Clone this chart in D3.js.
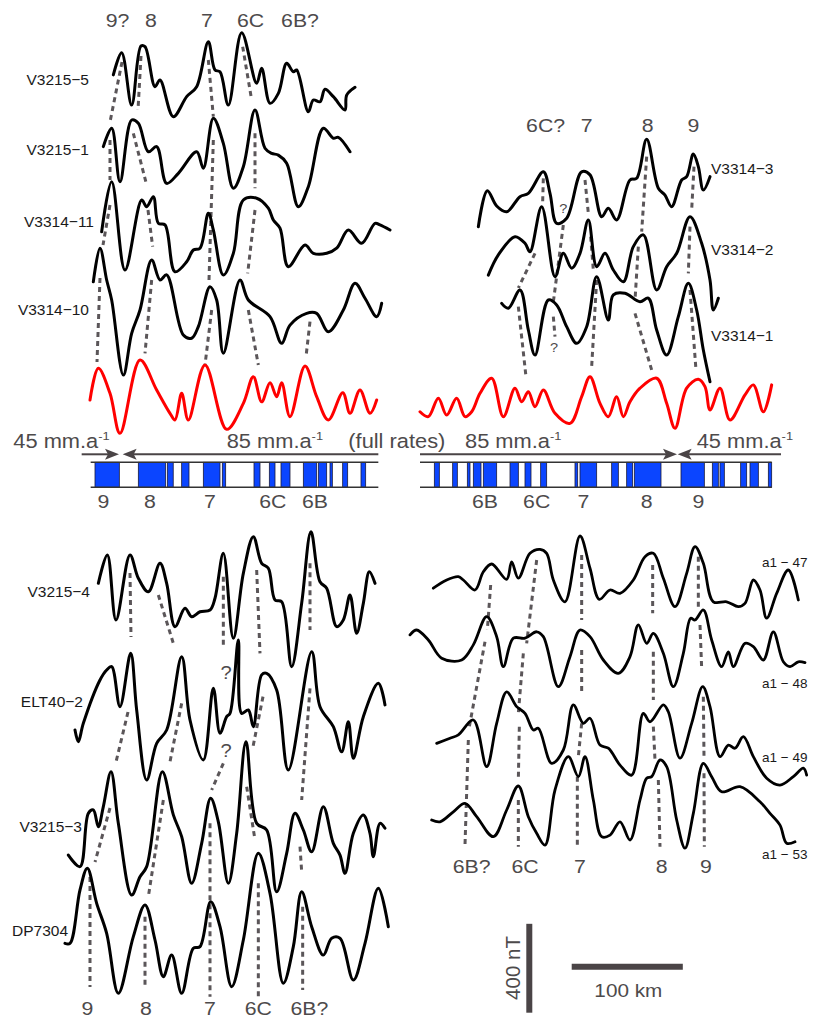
<!DOCTYPE html>
<html>
<head>
<meta charset="utf-8">
<script src="https://cdnjs.cloudflare.com/ajax/libs/d3/7.8.5/d3.min.js"></script>
<style>
  body { margin: 0; background: #fff; }
  svg { display: block; }
</style>
</head>
<body>
<svg></svg>
<script>
// magnetic anomaly profiles, [distance km, anomaly nT] (anomaly relative to own profile baseline)
const V3215_5 = [[21,23],[28.5,123],[37.5,-113],[45.9,153],[49.5,150],[58.5,-30],[63,0],[75,-165],[87,-75],[96,-30],[106.5,172],[112.5,45],[117,37],[124.5,-113],[136.5,213],[150,-15],[154.5,53],[162,-105],[169.5,-60],[177,75],[183,37],[186,45],[196.5,-143],[201,-90],[207,-98],[211.5,-42],[219,-75],[229.5,-135],[231,-68],[238.5,-33]];
const V3215_1 = [[12,15],[19.5,98],[27,-143],[37.5,135],[43.5,120],[52.5,-8],[60,15],[69,-150],[79.5,-105],[96,-8],[102,-82],[111,143],[120,30],[129,-172],[138,-75],[148.5,180],[157.5,8],[163.5,-15],[169.5,-23],[177,-60],[187.5,-255],[196.5,-165],[210,98],[219,53],[223.5,57],[234,-8]];
const V3314_11 = [[10.5,-8],[19.5,217],[31.5,-180],[46.5,135],[51,105],[57,150],[61.5,30],[67.5,23],[76.5,-188],[87,-143],[93,-90],[99,-82],[106.5,75],[111,0],[120,-203],[129,-105],[138,135],[150,143],[160.5,98],[165,45],[171,8],[178.5,-165],[193.5,-68],[201,-105],[213,-105],[222,-82],[232.5,0],[244.5,-60],[256.5,30],[261,23],[270,0]];
const V3314_10 = [[3,127],[9,278],[15,135],[19.5,45],[30,-293],[37.5,-105],[45,0],[55.5,225],[63,135],[69,158],[84,-113],[91.5,-127],[97.5,-75],[108,105],[114,45],[120,-195],[135,135],[142.5,45],[162,-30],[172.5,-150],[180,-68],[195,-15],[204,-15],[214.5,-98],[228,0],[238.5,120],[247.5,53],[258,-30],[262.5,30]];
const synthLeft = [[0,0],[7.5,143],[18,30],[27,-150],[45,180],[60,45],[72,-60],[76.5,-90],[82.5,30],[88.5,-90],[103.5,158],[123,-132],[138,-15],[147,105],[154.5,-8],[162,78],[168,15],[172.5,78],[180,-75],[193.5,153],[204,15],[214.5,-90],[227.5,33],[234,-60],[243,45],[252,-60],[258,0]];

const V3314_3 = [[61.5,-165],[69.6,-3],[78,-72],[87,-98],[99,-30],[106.5,-15],[120,82],[126,-15],[132,-150],[141,-127],[154.5,82],[162,68],[172.5,-120],[178.5,-82],[186,-135],[198,45],[204,53],[213,228],[223.5,8],[229.5,-23],[235.5,-75],[244.5,45],[249,60],[255,162],[259.5,105],[264,0],[270,60]];
const V3314_2 = [[70.5,-68],[79.5,23],[94.5,105],[103.5,75],[108,37],[118.5,240],[130.5,-75],[138,30],[145.5,-37],[153,30],[160.5,180],[168,-30],[175.5,30],[183,-45],[192,-98],[201,60],[210,113],[222,-135],[231,-30],[240,30],[252,195],[262.5,75],[270,-90],[273,-225],[277.5,-172]];
const V3314_1 = [[82.5,75],[88.5,53],[99,135],[106.5,-45],[112.5,-158],[124.5,90],[132,68],[141,-30],[150,-105],[159,-30],[168,195],[178.5,0],[183,113],[193.5,120],[207,82],[214.5,98],[222,-45],[231,-158],[241.5,15],[250.5,165],[258,45],[264,-135],[270,-278]];
const synthRight = [[9,-53],[16.5,-75],[25.5,8],[33,-68],[42,8],[49.5,-75],[55.5,-53],[63,30],[73.5,98],[84,-75],[94.5,53],[100.5,-8],[106.5,37],[112.5,-30],[120,45],[130.5,-60],[144,-105],[154.5,15],[162,105],[171,-15],[178.5,-75],[186,15],[192,-75],[198,-8],[207,53],[222,98],[231,-15],[238.5,-127],[249,53],[259.5,93],[265.5,60],[270,-45],[279,53],[288,-90],[301.5,23],[309,68],[318,-53],[325.5,68]];

const V3215_4 = [[7.5,30],[15.6,158],[23.4,-135],[36,158],[43.5,53],[52.5,-8],[63,120],[69,30],[76.5,-165],[85.5,-82],[91.5,-120],[99,-98],[108,-90],[112.5,-37],[120,165],[129,-217],[138,75],[147,240],[154.5,120],[160.5,98],[166.5,-45],[172.5,-53],[181.5,-345],[190.5,-60],[198.9,262],[207,37],[213,8],[222,-165],[228,-135],[234,-23],[240,-195],[246,-60],[251.4,82],[256.5,30]];
const ELT40_2 = [[-13.5,-90],[-10.5,-143],[-6,-60],[9,135],[15,180],[19.5,195],[27,15],[36.6,255],[42,0],[51,-315],[60,-150],[69,-90],[82.5,240],[90,-45],[102,-225],[111,98],[117,-105],[123,-30],[126,-15],[133.5,315],[136.5,-15],[142.5,0],[147,-75],[154.5,158],[159,165],[168,90],[178.5,-270],[199.5,262],[207,15],[219,-75],[226.5,-188],[232.5,-53],[237,-217],[246,-30],[259.5,120],[265.5,23]];
const V3215_3 = [[-19.5,-113],[-9,-165],[-1.5,75],[3,90],[7.5,15],[12,105],[18.9,262],[25.5,30],[37.5,-293],[45,-210],[51,-165],[65.1,262],[75,68],[82.5,-30],[91.5,-240],[100.5,-60],[108.6,143],[115.5,37],[124.5,-240],[132,-15],[140.4,397],[150,30],[159,0],[168,-278],[177,-105],[184.5,75],[192,0],[199.5,-98],[210,105],[219,-60],[225,-113],[229.5,-195],[237,-15],[246,68],[252,-15],[255,-120],[261,30],[265.5,8]];
const DP7304 = [[-22.5,-15],[-18,-15],[-9,225],[-2.4,323],[6,165],[15,30],[25.5,-240],[39,15],[49.5,158],[58.5,0],[66,-165],[73.5,-68],[82.5,-240],[93,-37],[99,-30],[108.6,172],[117,60],[127.5,-210],[138,0],[151.5,390],[162,210],[174,-195],[183,-30],[190.5,217],[199.5,60],[210,-68],[217.5,8],[225,8],[237,-180],[247.5,-15],[259.5,233],[268.5,60]];

const a1_47 = [[21,-37],[33,0],[43.5,15],[48,0],[58.5,-45],[66,37],[73.5,72],[87,3],[91.5,82],[97.5,8],[108,120],[117,138],[123,120],[129,0],[139.5,-98],[153,198],[162,53],[170.4,-87],[180,-45],[189,-60],[201,0],[211.5,105],[219,120],[228,8],[238.5,-120],[249,30],[256.5,150],[264,75],[273,-98],[285,-98],[295.5,-120],[301.5,-105],[309,0],[315,-45],[321,-172],[330,-60],[340.5,45],[349.5,-90]];
const a1_48 = [[0,68],[6,90],[16.5,45],[28.5,-37],[46.5,-45],[57,23],[69,150],[78,60],[84,-75],[93,53],[103.5,53],[114,82],[120,60],[133.5,-165],[144,-30],[153,90],[162,60],[174,-45],[187.5,-105],[198,-30],[205.5,113],[213,30],[219,75],[228,-15],[237,-165],[246,-15],[252.6,143],[256.5,135],[264,180],[271.5,45],[280.5,-75],[286.5,-8],[291,-75],[301.5,30],[309,15],[318,-45],[327,82],[336,-53],[342,-75],[349.5,-53],[355.5,-57]];
const a1_49 = [[24,-15],[36,8],[43.5,23],[57,90],[69,-120],[78,75],[87,217],[96,150],[103.5,120],[111,45],[115.5,53],[127.5,-105],[138,-45],[147,158],[156,75],[162,98],[171,-23],[178.5,-37],[189,-113],[199.5,-158],[210,120],[216,82],[228,158],[232.5,127],[243,-82],[253.5,75],[263.4,240],[270,150],[279,-75],[286.5,-23],[292.5,-37],[300,15],[309,-75],[321,-172],[333,-203],[345,-165],[354,-127],[357,-158]];
const a1_53 = [[19.5,0],[27,-8],[39,37],[49.5,75],[60,15],[75,-75],[87,45],[97.5,153],[106.5,15],[114,-60],[121.5,-113],[130.5,135],[142.5,285],[151.5,195],[157.5,285],[165,90],[172.5,-75],[180,-68],[189,-8],[198,-90],[207,90],[213,188],[217.5,195],[225,270],[231,240],[240,0],[247.5,-127],[255,30],[264,255],[271.5,195],[280.5,127],[297,150],[315,82],[324,30],[333,-23],[339,-105],[346.5,-98]];

// stacking offsets (nT) of each profile within its panel
const offsetsTopLeft = [1620, 1305, 945, 585, 180];
const offsetsTopRight = [1125, 810, 540, 180];
const offsetsBotLeft = [1845, 1305, 765, 270];
const offsetsBotRight = [1260, 945, 540, 180];

// correlation picks (dashed), segments of [km, stacked nT]
const picksTopLeft = [
  [[28.8,1701],[18,1431]], [[18,1350],[18,1170]], [[18,1057.5],[11.7,877.5]], [[9,729],[6.3,351]],
  [[45.9,1728],[43.2,1485]], [[39,1380],[51,1147.5]], [[52.2,1035],[56.4,870]], [[55.5,720],[49.5,390]],
  [[106.5,1710],[111,1455]], [[111,1350],[107.1,720]], [[109.5,585],[103.5,337.5]],
  [[137.4,1770],[145.5,1530]], [[148.5,1380],[148.5,1132.5]], [[148.5,1035],[141.9,750]], [[142.5,585],[151.5,337.5]],
  [[198,532.5],[194.4,375]]
];
const picksTopRight = [
  [[120,1177.5],[119.4,1072.5]], [[112.5,840],[97.5,684]], [[97.5,600],[104.4,285]],
  [[138,967.5],[129,621]], [[129,555],[130.5,465]],
  [[157.5,1170],[160.5,1020]], [[162.6,915],[165,765]], [[168,720],[163.5,330]],
  [[213,1275],[208.5,937.5]], [[205.5,870],[202.5,630]], [[202.5,570],[217.5,315]],
  [[255.6,1230],[253.5,1035]], [[252,960],[250.5,750]], [[252,675],[257.4,315]]
];
const picksBotLeft = [
  [[36,1921.5],[36.9,1633.5]], [[34.2,1296],[23.4,1071]], [[18,864],[4.5,621]], [[0,553.5],[0,58.5]],
  [[61.5,1822.5],[75,1605]], [[82.5,1335],[72,1072.5]], [[66,900],[52.5,465]], [[49.5,375],[49.5,60]],
  [[120,1905],[120,1590]], [[120,1065],[109.5,945]], [[108,795],[108,15]],
  [[150,1935],[153,1560]], [[155.7,1365],[146.7,1140]], [[141,960],[148.5,720]], [[151.5,525],[151.5,15]],
  [[198,1965],[198,1665]], [[198,1402.5],[190.5,900]], [[189,690],[190.5,577.5]], [[191.4,420],[191.4,45]]
];
const picksBotRight = [
  [[72.6,1237.5],[69.6,1035]], [[67.5,982.5],[53.4,600]], [[52.5,540],[49.5,67.5]],
  [[114,1350],[105,975]], [[102,930],[97.5,660]], [[98.4,600],[97.5,360]], [[97.5,270],[97.5,60]],
  [[154.5,1372.5],[154.5,1080]], [[154.5,945],[154.5,742.5]], [[154.5,615],[151.5,465]], [[150.6,375],[150.6,60]],
  [[218.4,1327.5],[218.4,1110]], [[219,937.5],[219,720]], [[219,600],[220.5,450]], [[223.5,360],[225,60]],
  [[259.5,1365],[259.5,1140]], [[261,1057.5],[262.5,862.5]], [[264,735],[264.6,465]], [[264.6,390],[264.9,60]]
];
// uncertain picks "?" [km, stacked nT]
const queryTopRight = [[138,1021.5],[129.6,396]];
const queryBotLeft = [[122.4,1444.5],[122.4,1093.5]];

// anomaly labels
const anomTopLeft = ['9?', '8', '7', '6C', '6B?'];
const anomTopLeftKm = [24.8, 54.9, 105.3, 144.5, 189];
const anomTopRight = ['6C?', '7', '8', '9'];
const anomTopRightKm = [122, 159, 214, 255];
const anomBotLeft = ['9', '8', '7', '6C', '6B?'];
const anomBotLeftKm = [-2.4, 50.4, 108, 151.5, 197.4];
const anomBotRight = ['6B?', '6C', '7', '8', '9'];
const anomBotRightKm = [55.5, 103.5, 153, 226.5, 266.4];

// normal polarity blocks of the model [start km, end km]
const blocksLeft = [[4.5,26.4],[43.5,68.1],[69.6,74.9],[82.5,89.1],[102,117],[119.1,122.1],[147.6,153],[161.4,166.5],[171.9,180],[192,204],[205.5,213],[216,218.1],[227.4,231.9],[243.9,248.1]];
const blocksRight = [[21.9,26.4],[38.4,42.6],[51.6,54],[57,63.9],[66,78],[90,97.5],[103.5,108.9],[117.6,123],[148.5,150.9],[153,168],[181.5,187.5],[195,200.4],[201.9,225.9],[243.9,264.9],[272.1,277.5],[279,282.9],[297.6,303],[306,313.5],[322.5,325.5]];
const barLeftLabels = ['9', '8', '7', '6C', '6B'];
const barLeftKm = [12, 54, 108, 164.5, 202.5];
const barRightLabels = ['6B', '6C', '7', '8', '9'];
const barRightKm = [67.5, 114, 156, 213, 259.5];

const W = 814, H = 1020;
const svg = d3.select('svg').attr('width', W).attr('height', H);
svg.append('rect').attr('width', W).attr('height', H).attr('fill', '#fff');

const FONT = '"Liberation Sans", Arial, Helvetica, sans-serif';
const GREY = '#4d4a4b';
const DARK = '#4a4446';
const STRETCH = 1.12;

// 0.9 km per px, 4.5 nT per px
const xLeft = d3.scaleLinear().domain([0, 100]).range([90, 90 + 100 / 0.9]);
const xRight = d3.scaleLinear().domain([0, 100]).range([410, 410 + 100 / 0.9]);
const yTop = d3.scaleLinear().domain([0, 400]).range([440, 440 - 400 / 4.5]);
const yBotL = d3.scaleLinear().domain([0, 400]).range([1000, 1000 - 400 / 4.5]);
const yBotR = d3.scaleLinear().domain([0, 400]).range([860, 860 - 400 / 4.5]);

function label(x, y, s, size, fill, anchor, sx) {
  return svg.append('text')
    .attr('transform', `translate(${x},${y}) scale(${sx || STRETCH},1)`)
    .attr('text-anchor', anchor || 'middle')
    .attr('font-family', FONT)
    .attr('font-size', size)
    .attr('fill', fill)
    .text(s);
}

const gPicks = svg.append('g');
const gLines = svg.append('g');

function drawPicks(segs, xs, ys) {
  gPicks.selectAll(null).data(segs).enter().append('line')
    .attr('x1', d => xs(d[0][0])).attr('y1', d => ys(d[0][1]))
    .attr('x2', d => xs(d[1][0])).attr('y2', d => ys(d[1][1]))
    .attr('stroke', '#5b5659').attr('stroke-width', 3)
    .attr('stroke-dasharray', '5,4');
}
drawPicks(picksTopLeft, xLeft, yTop);
drawPicks(picksTopRight, xRight, yTop);
drawPicks(picksBotLeft, xLeft, yBotL);
drawPicks(picksBotRight, xRight, yBotR);

function drawProfile(data, off, xs, ys, color, w) {
  const line = d3.line()
    .x(d => xs(d[0]))
    .y(d => ys(d[1] + off))
    .curve(d3.curveCatmullRom.alpha(0.5));
  gLines.append('path').datum(data)
    .attr('d', line)
    .attr('fill', 'none')
    .attr('stroke', color)
    .attr('stroke-width', w)
    .attr('stroke-linejoin', 'round')
    .attr('stroke-linecap', 'round');
}

[V3215_5, V3215_1, V3314_11, V3314_10].forEach((d, i) => drawProfile(d, offsetsTopLeft[i], xLeft, yTop, '#000', 3));
drawProfile(synthLeft, offsetsTopLeft[4], xLeft, yTop, '#ff0000', 3);
[V3314_3, V3314_2, V3314_1].forEach((d, i) => drawProfile(d, offsetsTopRight[i], xRight, yTop, '#000', 3));
drawProfile(synthRight, offsetsTopRight[3], xRight, yTop, '#ff0000', 3);
[V3215_4, ELT40_2, V3215_3, DP7304].forEach((d, i) => drawProfile(d, offsetsBotLeft[i], xLeft, yBotL, '#000', 3));
[a1_47, a1_48, a1_49, a1_53].forEach((d, i) => drawProfile(d, offsetsBotRight[i], xRight, yBotR, '#000', 2.8));

// profile names
const NAME = '#1a1a1a';
label(89, 85, 'V3215−5', 15.5, NAME, 'end', 1);
label(89, 155, 'V3215−1', 15.5, NAME, 'end', 1);
label(94, 227, 'V3314−11', 15.5, NAME, 'end', 1);
label(89, 315, 'V3314−10', 15.5, NAME, 'end', 1);
label(711, 174, 'V3314−3', 15.5, NAME, 'start', 1);
label(711, 255, 'V3314−2', 15.5, NAME, 'start', 1);
label(711, 341, 'V3314−1', 15.5, NAME, 'start', 1);
label(90, 597, 'V3215−4', 15.5, NAME, 'end', 1);
label(83, 707, 'ELT40−2', 15.5, NAME, 'end', 1);
label(82, 832, 'V3215−3', 15.5, NAME, 'end', 1);
label(68, 936, 'DP7304', 15.5, NAME, 'end', 1);
label(762, 567, 'a1 − 47', 13.5, NAME, 'start', 1);
label(762, 688, 'a1 − 48', 13.5, NAME, 'start', 1);
label(762, 762, 'a1 − 49', 13.5, NAME, 'start', 1);
label(762, 859, 'a1 − 53', 13.5, NAME, 'start', 1);

// anomaly names
anomTopLeft.forEach((s, i) => label(xLeft(anomTopLeftKm[i]), 27, s, 19, GREY));
anomTopRight.forEach((s, i) => label(xRight(anomTopRightKm[i]), 132, s, 19, GREY));
anomBotLeft.forEach((s, i) => label(xLeft(anomBotLeftKm[i]), 1015, s, 19, GREY));
anomBotRight.forEach((s, i) => label(xRight(anomBotRightKm[i]), 873, s, 19, GREY));
queryTopRight.forEach(d => label(xRight(d[0]), yTop(d[1]), '?', 13, GREY));
queryBotLeft.forEach(d => label(xLeft(d[0]), yBotL(d[1]), '?', 18, GREY));

// polarity model bars
const barTop = 462.3, barBot = 487.3;
function drawBar(blocks, xs, k0, k1) {
  svg.selectAll(null).data(blocks).enter().append('rect')
    .attr('x', d => xs(d[0])).attr('width', d => xs(d[1]) - xs(d[0]))
    .attr('y', barTop).attr('height', barBot - barTop)
    .attr('fill', '#0b45ff').attr('stroke', '#1b1b3a').attr('stroke-width', 0.8);
  [barTop, barBot].forEach(y => svg.append('line')
    .attr('x1', xs(k0)).attr('x2', xs(k1)).attr('y1', y).attr('y2', y)
    .attr('stroke', '#333').attr('stroke-width', 1.6));
}
drawBar(blocksLeft, xLeft, 0.6, 259.5);
drawBar(blocksRight, xRight, 9, 325.5);
barLeftLabels.forEach((s, i) => label(xLeft(barLeftKm[i]), 508, s, 19, GREY));
barRightLabels.forEach((s, i) => label(xRight(barRightKm[i]), 508, s, 19, GREY));

// spreading-rate arrows
const arrowY = 454.3;
function arrow(xFrom, xTip) {
  const dir = xTip > xFrom ? 1 : -1;
  svg.append('line').attr('x1', xFrom).attr('x2', xTip - dir * 10)
    .attr('y1', arrowY).attr('y2', arrowY)
    .attr('stroke', DARK).attr('stroke-width', 2);
  svg.append('path')
    .attr('d', `M${xTip},${arrowY} L${xTip - dir * 14},${arrowY - 5.5} L${xTip - dir * 11},${arrowY} L${xTip - dir * 14},${arrowY + 5.5} Z`)
    .attr('fill', DARK);
}
arrow(xLeft(-7.5), xLeft(26.1));
arrow(xLeft(259.5), xLeft(29.4));
arrow(xRight(9), xRight(240.3));
arrow(xRight(333.9), xRight(240.9));

function rate(x, s) {
  const t = label(x, 448, '', 19.5, GREY, 'start');
  t.append('tspan').text(s);
  t.append('tspan').attr('dy', -8).attr('font-size', 11.5).text('-1');
}
rate(13.3, '45 mm.a');
rate(226.7, '85 mm.a');
label(348.3, 448, '(full rates)', 19.5, GREY, 'start');
rate(465, '85 mm.a');
rate(696.7, '45 mm.a');

// scale bars
const sbX = 529.3, sbY = 1012.7;
svg.append('line').attr('x1', sbX).attr('x2', sbX)
  .attr('y1', sbY).attr('y2', sbY - (yBotR(0) - yBotR(400)))
  .attr('stroke', DARK).attr('stroke-width', 6);
svg.append('text')
  .attr('transform', `translate(520,968) rotate(-90)`)
  .attr('text-anchor', 'middle').attr('font-family', FONT)
  .attr('font-size', 20.5).attr('fill', GREY).text('400 nT');
const hbX = 571.7, hbY = 966.7;
svg.append('line').attr('x1', hbX).attr('x2', hbX + (xRight(100) - xRight(0)))
  .attr('y1', hbY).attr('y2', hbY)
  .attr('stroke', DARK).attr('stroke-width', 6);
label(628.3, 996.7, '100 km', 18.5, GREY);
</script>
</body>
</html>
